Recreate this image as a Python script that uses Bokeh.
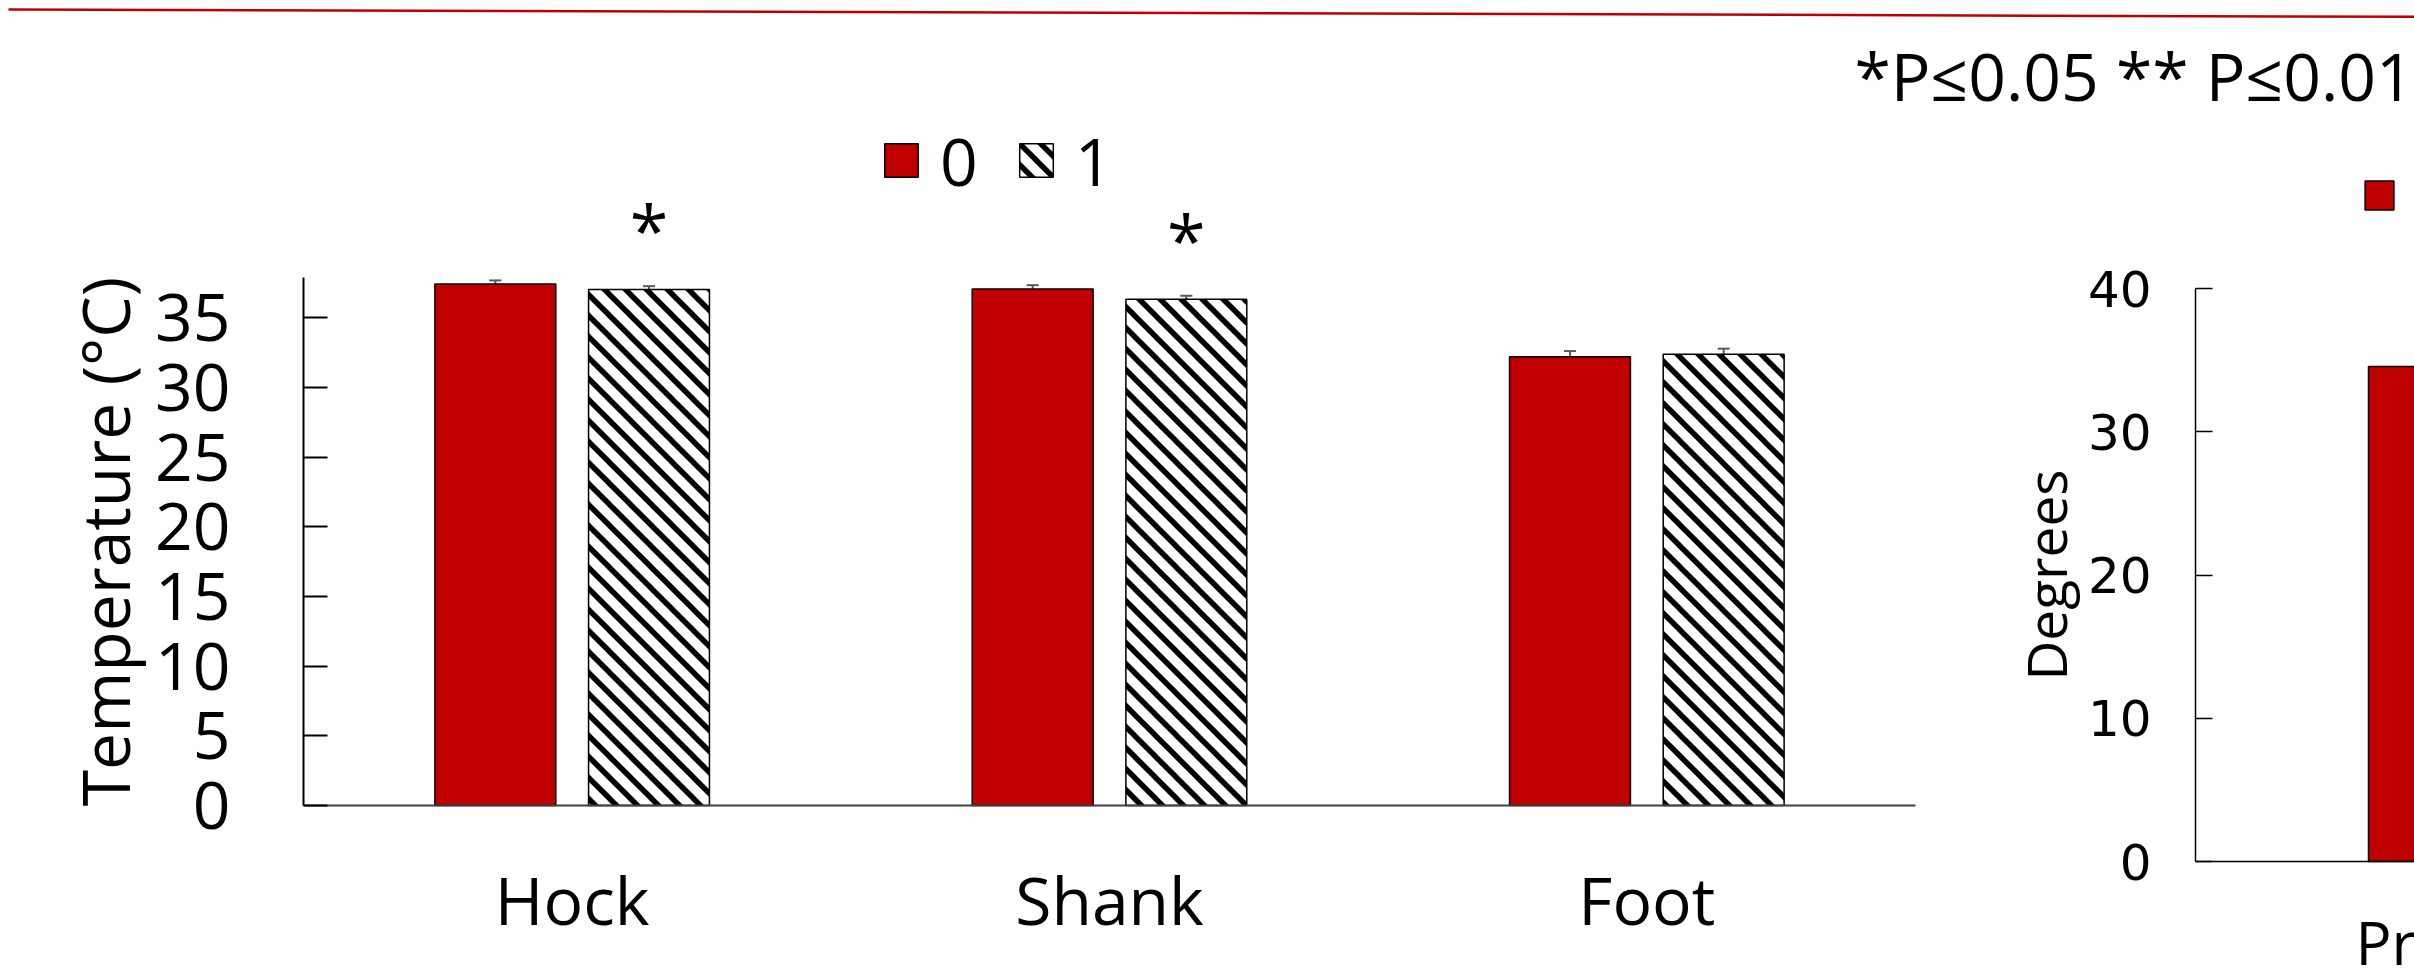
import base64
from bokeh.plotting import figure
from bokeh.models import (Range1d, Whisker, ColumnDataSource, Legend, LegendItem, Label,
                          FixedTicker, TeeHead, LinearAxis, ImageURLTexture)
from bokeh.transform import dodge
from bokeh.embed import file_html
from bokeh.resources import INLINE
from bokeh.core.properties import value

# ---------------- data ----------------
sites = ["Hock", "Shank", "Foot"]
series_names = ["0", "1"]
temp_0 = [37.44, 37.08, 32.22]
temp_1 = [37.03, 36.34, 32.39]
err_0 = [0.25, 0.27, 0.40]
err_1 = [0.25, 0.25, 0.40]
signif_1 = ["*", "*", ""]
left_ticks = [0, 5, 10, 15, 20, 25, 30, 35]
left_ymax = 37.9

right_categories = ["Pr"]
right_0 = [34.55]
right_ticks = [0, 10, 20, 30, 40]
right_ymax = 40

footnote = "*P\u22640.05 ** P\u22640.01"
left_ylabel = "Temperature (\u00b0C)"
right_ylabel = "Degrees"

FONT = "Open Sans"
RED = "#C00000"
GREY = "#595959"

# 45-degree "wide downward diagonal" hatch tile (21 px period, 5.5 px stroke)
_tile = ("<svg xmlns='http://www.w3.org/2000/svg' width='21' height='21'>"
         "<path d='M-21,-21 L42,42 M-21,0 L21,42 M0,-21 L42,21' stroke='black' "
         "stroke-width='5.5' fill='none'/></svg>")
DIAG = ImageURLTexture(url="data:image/svg+xml;base64," + base64.b64encode(_tile.encode()).decode(),
                       repetition="repeat")
HATCH = dict(hatch_pattern=value("diag45"), hatch_extra={"diag45": DIAG},
             hatch_color="black", hatch_scale=21, hatch_weight=5.5)

# ---------------- layout constants (pixels on the page) ----------------
W, H = 2414, 969
L_X0, L_X1, L_Y0, L_YTOP = 303, 1915, 805, 277
R_X0, R_Y0, R_YTOP, R_CAT_PX = 2195, 861, 288, 707.6
OFF, BAR_W = 0.143, 0.225

lx_ppu = (L_X1 - L_X0) / len(sites)
lx_start = -0.5 - L_X0 / lx_ppu
ly_ppu = (L_Y0 - L_YTOP) / left_ymax
ly_start = -(H - L_Y0) / ly_ppu
rx_start = -0.5 - R_X0 / R_CAT_PX
ry_ppu = (R_Y0 - R_YTOP) / right_ymax
ry_start = -(H - R_Y0) / ry_ppu

F = figure(width=W, height=H,
           x_range=Range1d(lx_start, lx_start + W / lx_ppu),
           y_range=Range1d(ly_start, ly_start + H / ly_ppu),
           x_axis_type=None, y_axis_type=None, min_border=0,
           output_backend="svg", toolbar_location=None)
F.extra_x_ranges = {"r": Range1d(rx_start, rx_start + W / R_CAT_PX), "px": Range1d(0, W)}
F.extra_y_ranges = {"r": Range1d(ry_start, ry_start + H / ry_ppu), "px": Range1d(H, 0)}
F.outline_line_color = None
F.background_fill_color = "white"

# ---------------- slide decoration ----------------
F.segment(x0=[8], y0=[9], x1=[W], y1=[16.3], line_color=RED, line_width=2.5,
          x_range_name="px", y_range_name="px")
F.add_layout(Label(x=1854, y=74, x_range_name="px", y_range_name="px", text=footnote,
                   text_font=FONT, text_font_size="66px", text_baseline="middle",
                   text_color="black"))

# ---------------- left chart ----------------
src = ColumnDataSource(dict(
    idx=list(range(len(sites))), t0=temp_0, t1=temp_1,
    lo0=[v - e for v, e in zip(temp_0, err_0)], hi0=[v + e for v, e in zip(temp_0, err_0)],
    lo1=[v - e for v, e in zip(temp_1, err_1)], hi1=[v + e for v, e in zip(temp_1, err_1)],
    sig1=signif_1,
))

r0 = F.vbar(x=dodge("idx", -OFF), top="t0", width=BAR_W, source=src,
            fill_color=RED, line_color="black", line_width=1.5)
r1 = F.vbar(x=dodge("idx", OFF), top="t1", width=BAR_W, source=src,
            fill_color="white", line_color="black", line_width=1.5, **HATCH)

for off, lo, hi in [(-OFF, "lo0", "hi0"), (OFF, "lo1", "hi1")]:
    F.add_layout(Whisker(base=dodge("idx", off), lower=lo, upper=hi, source=src,
                         line_color=GREY, line_width=2,
                         upper_head=TeeHead(size=12, line_color=GREY, line_width=2),
                         lower_head=TeeHead(size=12, line_color=GREY, line_width=2)))

F.text(x=dodge("idx", OFF), y="hi1", text="sig1", source=src,
       text_align="center", text_baseline="middle", y_offset=-57,
       text_font=value(FONT), text_font_size="70px", text_color="black")

ly = LinearAxis(fixed_location=-0.5, bounds=(0, left_ymax), ticker=FixedTicker(ticks=left_ticks))
ly.major_tick_in = 24
ly.major_tick_out = 0
ly.minor_tick_line_color = None
ly.axis_line_color = "black"
ly.axis_line_width = 2
ly.major_tick_line_width = 2
ly.major_tick_line_color = "black"
ly.major_label_text_font = FONT
ly.major_label_text_font_size = "66px"
ly.major_label_text_color = "black"
ly.major_label_standoff = 73
ly.axis_label = left_ylabel
ly.axis_label_text_font = FONT
ly.axis_label_text_font_size = "66px"
ly.axis_label_text_font_style = "normal"
ly.axis_label_text_color = "black"
ly.axis_label_standoff = 3
F.add_layout(ly, "left")

lx = LinearAxis(fixed_location=0, bounds=(-0.5, len(sites) - 0.5),
                ticker=FixedTicker(ticks=list(range(len(sites)))),
                major_label_overrides={i: s for i, s in enumerate(sites)})
lx.major_tick_line_color = None
lx.minor_tick_line_color = None
lx.axis_line_color = "#404040"
lx.axis_line_width = 2
lx.major_label_text_font = FONT
lx.major_label_text_font_size = "66px"
lx.major_label_text_color = "black"
lx.major_label_standoff = 42
F.add_layout(lx, "below")

leg = Legend(items=[LegendItem(label=series_names[0], renderers=[r0]),
                    LegendItem(label=series_names[1], renderers=[r1])],
             orientation="horizontal", location=(880, 764),
             glyph_width=42, glyph_height=42, label_standoff=18, spacing=37,
             padding=0, margin=0, border_line_alpha=0, background_fill_alpha=0,
             label_text_font=FONT, label_text_font_size="66px", label_text_color="black")
F.add_layout(leg)

# ---------------- right chart (cut off at the window edge) ----------------
rsrc = ColumnDataSource(dict(idx=list(range(len(right_categories))), v0=right_0,
                             cat=right_categories))
rr0 = F.vbar(x=dodge("idx", -OFF), top="v0", width=BAR_W, source=rsrc,
             fill_color=RED, line_color="black", line_width=1.5,
             x_range_name="r", y_range_name="r")
F.text(x=dodge("idx", -0.274), y=0, text="cat", source=rsrc, x_range_name="r", y_range_name="r",
       text_align="left", text_baseline="middle", y_offset=80,
       text_font=value(FONT), text_font_size="60px", text_color="black")

ry = LinearAxis(x_range_name="r", y_range_name="r", fixed_location=-0.5, bounds=(0, right_ymax),
                ticker=FixedTicker(ticks=right_ticks))
ry.major_tick_in = 17
ry.major_tick_out = 0
ry.minor_tick_line_color = None
ry.axis_line_color = "black"
ry.axis_line_width = 1.5
ry.major_tick_line_color = "black"
ry.major_tick_line_width = 1.5
ry.major_label_text_font = "DejaVu Sans"
ry.major_label_text_font_size = "50px"
ry.major_label_text_color = "black"
ry.major_label_standoff = 44
ry.axis_label = right_ylabel
ry.axis_label_text_font = FONT
ry.axis_label_text_font_size = "55px"
ry.axis_label_text_font_style = "normal"
ry.axis_label_text_color = "black"
ry.axis_label_standoff = 2
F.add_layout(ry, "left")

rx = LinearAxis(x_range_name="r", y_range_name="r", fixed_location=0,
                bounds=(-0.5, rx_start + W / R_CAT_PX), ticker=FixedTicker(ticks=[]))
rx.major_tick_line_color = None
rx.minor_tick_line_color = None
rx.axis_line_color = "black"
rx.axis_line_width = 1.5
F.add_layout(rx, "below")

rleg = Legend(items=[LegendItem(label=series_names[0], renderers=[rr0])],
              orientation="horizontal", location=(2361, 733),
              glyph_width=36, glyph_height=36, label_standoff=18, spacing=37,
              padding=0, margin=0, border_line_alpha=0, background_fill_alpha=0,
              label_text_font=FONT, label_text_font_size="60px", label_text_color="black")
F.add_layout(rleg)

open("out.html", "w").write(file_html(F, INLINE))
